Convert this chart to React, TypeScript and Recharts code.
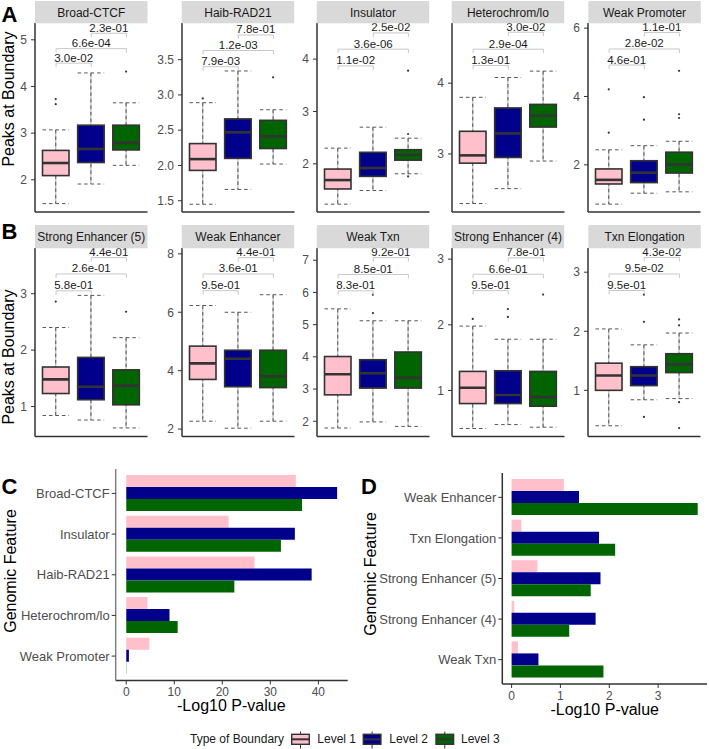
import React from "react";
import { ComposedChart, BarChart, Bar, XAxis, YAxis, ReferenceLine } from "recharts";

const LEVELS = ["Level 1", "Level 2", "Level 3"];
const LEVEL_COLORS = ["#FFC0CB", "#00008B", "#006400"];

// box stats per level: [lower whisker, Q1, median, Q3, upper whisker]
const broadCtcfBox = [[1.49, 2.09, 2.36, 2.63, 3.07], [1.91, 2.37, 2.66, 3.17, 4.29], [2.31, 2.64, 2.79, 3.17, 3.65]];
const broadCtcfOut = [[3.62, 3.73], [], [4.32]];
const broadCtcfP = ["3.0e-02", "6.6e-04", "2.3e-01"];
const broadCtcfBrackets = [4.5, 4.81, 5.14];
const broadCtcfTicks = [2, 3, 4, 5];

const haibRad21Box = [[1.45, 1.93, 2.09, 2.31, 2.89], [1.66, 2.1, 2.47, 2.66, 3.34], [2.02, 2.24, 2.41, 2.64, 2.79]];
const haibRad21Out = [[2.95], [], [3.25]];
const haibRad21P = ["7.9e-03", "1.2e-03", "7.8e-01"];
const haibRad21Brackets = [3.4, 3.63, 3.85];
const haibRad21Ticks = [1.5, 2.0, 2.5, 3.0, 3.5];

const insulatorBox = [[1.23, 1.52, 1.69, 1.9, 2.3], [1.49, 1.76, 1.92, 2.22, 2.7], [1.81, 2.07, 2.17, 2.27, 2.49]];
const insulatorOut = [[], [], [3.78, 2.57, 1.76]];
const insulatorP = ["1.1e-02", "3.6e-06", "2.5e-02"];
const insulatorBrackets = [3.87, 4.19, 4.5];
const insulatorTicks = [2, 3, 4];

const heteroBox = [[2.3, 2.87, 2.98, 3.32, 3.8], [2.51, 2.95, 3.29, 3.65, 4.08], [2.9, 3.38, 3.54, 3.7, 4.17]];
const heteroOut = [[], [], []];
const heteroP = ["1.3e-01", "2.9e-04", "3.0e-02"];
const heteroBrackets = [4.25, 4.48, 4.72];
const heteroTicks = [3, 4];

const weakPromBox = [[0.85, 1.44, 1.56, 1.88, 2.44], [1.17, 1.48, 1.77, 2.12, 2.56], [1.21, 1.76, 2.01, 2.37, 2.69]];
const weakPromOut = [[2.94, 4.21], [3.32, 3.98], [3.37, 3.48, 4.75]];
const weakPromP = ["4.6e-01", "2.8e-02", "1.1e-01"];
const weakPromBrackets = [4.92, 5.39, 5.87];
const weakPromTicks = [2, 4, 6];

const strongEnh5Box = [[0.84, 1.23, 1.48, 1.7, 2.4], [0.76, 1.12, 1.35, 1.87, 2.97], [0.62, 1.03, 1.37, 1.65, 2.22]];
const strongEnh5Out = [[2.86], [], [2.68]];
const strongEnh5P = ["5.8e-01", "2.6e-01", "4.4e-01"];
const strongEnh5Brackets = [3.05, 3.35, 3.64];
const strongEnh5Ticks = [1, 2, 3];

const weakEnhBox = [[2.27, 3.7, 4.25, 4.84, 6.23], [2.03, 3.45, 4.41, 4.7, 6.0], [2.27, 3.42, 3.81, 4.7, 6.6]];
const weakEnhOut = [[], [], []];
const weakEnhP = ["9.5e-01", "3.6e-01", "4.4e-01"];
const weakEnhBrackets = [6.74, 7.31, 7.87];
const weakEnhTicks = [2, 4, 6, 8];

const weakTxnBox = [[1.79, 2.82, 3.46, 4.01, 5.49], [1.98, 3.03, 3.49, 3.91, 5.12], [1.84, 3.03, 3.35, 4.15, 5.12]];
const weakTxnOut = [[], [5.36, 5.93], []];
const weakTxnP = ["8.3e-01", "8.5e-01", "9.2e-01"];
const weakTxnBrackets = [6.05, 6.56, 7.08];
const weakTxnTicks = [2, 3, 4, 5, 6, 7];

const strongEnh4Box = [[0.42, 0.8, 1.04, 1.29, 1.98], [0.48, 0.8, 0.93, 1.3, 1.78], [0.44, 0.76, 0.9, 1.29, 1.78]];
const strongEnh4Out = [[2.09], [2.12, 2.24], [2.46]];
const strongEnh4P = ["9.5e-01", "6.6e-01", "7.8e-01"];
const strongEnh4Brackets = [2.52, 2.77, 3.02];
const strongEnh4Ticks = [1, 2, 3];

const txnElongBox = [[0.4, 1.0, 1.25, 1.46, 2.04], [0.84, 1.08, 1.25, 1.4, 1.77], [0.86, 1.3, 1.44, 1.62, 1.97]];
const txnElongOut = [[], [0.55, 2.16, 2.62], [0.36, 0.8, 2.1, 2.2]];
const txnElongP = ["9.5e-01", "9.5e-02", "4.3e-02"];
const txnElongBrackets = [2.69, 2.97, 3.25];
const txnElongTicks = [1, 2, 3];

// -log10 p-values
const cFeatures = ["Broad-CTCF", "Insulator", "Haib-RAD21", "Heterochrom/lo", "Weak Promoter"];
const cLevel1 = [35.3, 21.3, 26.7, 4.4, 4.8];
const cLevel2 = [43.9, 35.1, 38.6, 9.0, 0.55];
const cLevel3 = [36.6, 32.2, 22.5, 10.7, 0.05];
const cTicks = [0, 10, 20, 30, 40];

const dFeatures = ["Weak Enhancer", "Txn Elongation", "Strong Enhancer (5)", "Strong Enhancer (4)", "Weak Txn"];
const dLevel1 = [1.07, 0.2, 0.53, 0.055, 0.13];
const dLevel2 = [1.38, 1.79, 1.82, 1.72, 0.55];
const dLevel3 = [3.81, 2.12, 1.62, 1.18, 1.88];
const dTicks = [0, 1, 2, 3];

const FONT = "'Liberation Sans', Arial, sans-serif";
const PLOT_W = 112.5;
const PANEL_LEFTS = [35, 181.7, 316.7, 451.7, 588.3];
const ROWS = [
  { stripTop: 1, stripBot: 23.3, plotBot: 212.3 },
  { stripTop: 225, stripBot: 248.3, plotBot: 436.7 },
];

const panels = [
  { title: "Broad-CTCF", box: broadCtcfBox, out: broadCtcfOut, p: broadCtcfP, br: broadCtcfBrackets, ticks: broadCtcfTicks, domain: [1.31, 5.36], dec: 0 },
  { title: "Haib-RAD21", box: haibRad21Box, out: haibRad21Out, p: haibRad21P, br: haibRad21Brackets, ticks: haibRad21Ticks, domain: [1.34, 4.02], dec: 1 },
  { title: "Insulator", box: insulatorBox, out: insulatorOut, p: insulatorP, br: insulatorBrackets, ticks: insulatorTicks, domain: [1.08, 4.69], dec: 0 },
  { title: "Heterochrom/lo", box: heteroBox, out: heteroOut, p: heteroP, br: heteroBrackets, ticks: heteroTicks, domain: [2.18, 4.85], dec: 0 },
  { title: "Weak Promoter", box: weakPromBox, out: weakPromOut, p: weakPromP, br: weakPromBrackets, ticks: weakPromTicks, domain: [0.62, 6.15], dec: 0 },
  { title: "Strong Enhancer (5)", box: strongEnh5Box, out: strongEnh5Out, p: strongEnh5P, br: strongEnh5Brackets, ticks: strongEnh5Ticks, domain: [0.47, 3.81], dec: 0 },
  { title: "Weak Enhancer", box: weakEnhBox, out: weakEnhOut, p: weakEnhP, br: weakEnhBrackets, ticks: weakEnhTicks, domain: [1.75, 8.2], dec: 0 },
  { title: "Weak Txn", box: weakTxnBox, out: weakTxnOut, p: weakTxnP, br: weakTxnBrackets, ticks: weakTxnTicks, domain: [1.53, 7.38], dec: 0 },
  { title: "Strong Enhancer (4)", box: strongEnh4Box, out: strongEnh4Out, p: strongEnh4P, br: strongEnh4Brackets, ticks: strongEnh4Ticks, domain: [0.3, 3.17], dec: 0 },
  { title: "Txn Elongation", box: txnElongBox, out: txnElongOut, p: txnElongP, br: txnElongBrackets, ticks: txnElongTicks, domain: [0.22, 3.41], dec: 0 },
];

const PAIRS = [[0, 1], [0, 2], [1, 2]];

function BoxShape(props: any) {
  const { x, y, width, height, payload } = props;
  if (!payload || x == null) return null;
  const [lo, q1, med, q3, hi] = payload.stats;
  const top = Math.min(y, y + height);
  const bot = Math.max(y, y + height);
  const py = (v: number) => bot - ((bot - top) * (v - lo)) / (hi - lo);
  const cx = x + width / 2;
  const dash = "3.5 3";
  return (
    <g>
      <line x1={cx} x2={cx} y1={py(hi)} y2={py(q3)} stroke="#b0b0b0" strokeWidth={1} />
      <line x1={cx} x2={cx} y1={py(q1)} y2={py(lo)} stroke="#b0b0b0" strokeWidth={1} />
      <line x1={cx} x2={cx} y1={py(hi)} y2={py(lo)} stroke="#555" strokeWidth={1} strokeDasharray={dash} />
      <line x1={x} x2={x + width} y1={py(hi)} y2={py(hi)} stroke="#555" strokeWidth={1} strokeDasharray={dash} />
      <line x1={x} x2={x + width} y1={py(lo)} y2={py(lo)} stroke="#555" strokeWidth={1} strokeDasharray={dash} />
      <rect x={x} y={py(q3)} width={width} height={py(q1) - py(q3)} fill={payload.fill} stroke="#333" strokeWidth={1.6} />
      <line x1={x} x2={x + width} y1={py(med)} y2={py(med)} stroke="#333" strokeWidth={2.6} />
      {payload.out.map((v: number, i: number) => (
        <circle key={i} cx={cx} cy={py(v)} r={1.1} fill="#333" />
      ))}
    </g>
  );
}

function BoxPanel({ panel, left, top, plotH }: any) {
  const data = LEVELS.map((lv, i) => ({ g: lv, stats: panel.box[i], out: panel.out[i], fill: LEVEL_COLORS[i] }));
  const [lo, hi] = panel.domain;
  const tip = ((hi - lo) * 4) / plotH;
  return (
    <div style={{ position: "absolute", left: left - 40, top }}>
      <ComposedChart width={40 + PLOT_W + 1} height={plotH + 1} data={data} margin={{ top: 0, right: 1, bottom: 0, left: 0 }}>
        <XAxis
          dataKey="g"
          type="category"
          tick={false}
          tickLine={false}
          height={1}
          padding={{ left: 3.5, right: 3.5 }}
          axisLine={{ stroke: "#333", strokeWidth: 1.5 }}
        />
        <YAxis
          type="number"
          domain={panel.domain}
          ticks={panel.ticks}
          allowDataOverflow
          interval={0}
          width={40}
          tickSize={4}
          tickMargin={4}
          axisLine={{ stroke: "#333", strokeWidth: 1.5 }}
          tickLine={{ stroke: "#333" }}
          tick={{ fill: "#4d4d4d", fontSize: 12 }}
          tickFormatter={(v: number) => v.toFixed(panel.dec)}
        />
        <Bar dataKey={(d: any) => [d.stats[0], d.stats[4]]} barSize={26.5} isAnimationActive={false} shape={BoxShape} />
        {PAIRS.map(([a, b], k) => (
          <React.Fragment key={k}>
            <ReferenceLine
              segment={[{ x: LEVELS[a], y: panel.br[k] }, { x: LEVELS[b], y: panel.br[k] }]}
              stroke="#c8c8c8"
              strokeWidth={1}
              label={{ value: panel.p[k], position: "top", offset: 1.5, fill: "#1a1a1a", fontSize: 11.5 }}
            />
            <ReferenceLine segment={[{ x: LEVELS[a], y: panel.br[k] }, { x: LEVELS[a], y: panel.br[k] - tip }]} stroke="#c8c8c8" strokeWidth={1} />
            <ReferenceLine segment={[{ x: LEVELS[b], y: panel.br[k] }, { x: LEVELS[b], y: panel.br[k] - tip }]} stroke="#c8c8c8" strokeWidth={1} />
          </React.Fragment>
        ))}
      </ComposedChart>
    </div>
  );
}

function FeatureBars({ cats, l1, l2, l3, domain, ticks, left, top, yWidth, width, plotH, leftAxisColor }: any) {
  const data = cats.map((c: string, i: number) => ({ c, l1: l1[i], l2: l2[i], l3: l3[i] }));
  const band = plotH / 5.2;
  return (
    <div style={{ position: "absolute", left, top }}>
      <BarChart
        layout="vertical"
        width={width}
        height={plotH + 24}
        data={data}
        margin={{ top: 0, right: 2, bottom: 0, left: 0 }}
        barCategoryGap="5%"
        barGap={0}
      >
        <XAxis
          type="number"
          domain={domain}
          ticks={ticks}
          allowDataOverflow
          interval={0}
          height={24}
          tickSize={4}
          tickMargin={3}
          axisLine={{ stroke: "#333", strokeWidth: 1.5 }}
          tickLine={{ stroke: "#333" }}
          tick={{ fill: "#4d4d4d", fontSize: 12 }}
        />
        <YAxis
          type="category"
          dataKey="c"
          width={yWidth}
          interval={0}
          tickSize={4}
          tickMargin={2}
          padding={{ top: band * 0.1, bottom: band * 0.1 }}
          axisLine={{ stroke: leftAxisColor, strokeWidth: 1.5 }}
          tickLine={{ stroke: "#333" }}
          tick={{ fill: "#4d4d4d", fontSize: 13 }}
        />
        <Bar dataKey="l1" fill={LEVEL_COLORS[0]} isAnimationActive={false} />
        <Bar dataKey="l2" fill={LEVEL_COLORS[1]} isAnimationActive={false} />
        <Bar dataKey="l3" fill={LEVEL_COLORS[2]} isAnimationActive={false} />
      </BarChart>
    </div>
  );
}

function LegendIcon({ x, color }: { x: number; color: string }) {
  const cx = x + 8.8;
  return (
    <g>
      <line x1={cx} x2={cx} y1={731.5} y2={748.5} stroke="#333" strokeWidth={1} />
      <rect x={x} y={734.3} width={17.6} height={10} fill={color} stroke="#333" strokeWidth={1.4} />
      <line x1={x} x2={x + 17.6} y1={739.3} y2={739.3} stroke="#333" strokeWidth={2} />
    </g>
  );
}

export default function App() {
  const legendIconX = [291.7, 363.3, 436];
  const legendTextX = [317.3, 389.3, 461];
  return (
    <div style={{ position: "absolute", left: 0, top: 0, width: 709, height: 749, background: "#fff", fontFamily: FONT, overflow: "hidden" }}>
      {panels.map((p, i) => {
        const row = ROWS[Math.floor(i / 5)];
        return (
          <BoxPanel key={p.title} panel={p} left={PANEL_LEFTS[i % 5]} top={row.stripBot} plotH={row.plotBot - row.stripBot} />
        );
      })}
      <FeatureBars
        cats={cFeatures}
        l1={cLevel1}
        l2={cLevel2}
        l3={cLevel3}
        domain={[-2.2, 46.1]}
        ticks={cTicks}
        left={0}
        top={468.5}
        yWidth={115.7}
        width={349.7}
        plotH={211.5}
        leftAxisColor="#808080"
      />
      <FeatureBars
        cats={dFeatures}
        l1={dLevel1}
        l2={dLevel2}
        l3={dLevel3}
        domain={[-0.19, 4.0]}
        ticks={dTicks}
        left={350}
        top={473}
        yWidth={152.3}
        width={359}
        plotH={211}
        leftAxisColor="#333"
      />
      <svg width={709} height={749} style={{ position: "absolute", left: 0, top: 0, pointerEvents: "none", fontFamily: FONT }}>
        {panels.map((p, i) => {
          const row = ROWS[Math.floor(i / 5)];
          const x = PANEL_LEFTS[i % 5];
          return (
            <g key={p.title}>
              <rect x={x} y={row.stripTop} width={PLOT_W} height={row.stripBot - row.stripTop} fill="#d9d9d9" />
              <text x={x + PLOT_W / 2} y={row.stripTop + 16} textAnchor="middle" fontSize={12} fill="#1a1a1a">
                {p.title}
              </text>
            </g>
          );
        })}
        <text transform="translate(13.5,99) rotate(-90)" textAnchor="middle" fontSize={16} fill="#000">Peaks at Boundary</text>
        <text transform="translate(13.5,357) rotate(-90)" textAnchor="middle" fontSize={16} fill="#000">Peaks at Boundary</text>
        <text transform="translate(16,571) rotate(-90)" textAnchor="middle" fontSize={16} fill="#000">Genomic Feature</text>
        <text transform="translate(376,574) rotate(-90)" textAnchor="middle" fontSize={16} fill="#000">Genomic Feature</text>
        <text x={231.3} y={711} textAnchor="middle" fontSize={16} fill="#000">-Log10 P-value</text>
        <text x={604.7} y={715} textAnchor="middle" fontSize={16} fill="#000">-Log10 P-value</text>
        <text x={1.5} y={22} fontSize={22} fontWeight="bold" fill="#000">A</text>
        <text x={1.5} y={238.5} fontSize={22} fontWeight="bold" fill="#000">B</text>
        <text x={1.5} y={494} fontSize={22} fontWeight="bold" fill="#000">C</text>
        <text x={361} y={494} fontSize={22} fontWeight="bold" fill="#000">D</text>
        <text x={190} y={743} fontSize={12} fill="#1a1a1a">Type of Boundary</text>
        {LEVELS.map((lv, i) => (
          <g key={lv}>
            <LegendIcon x={legendIconX[i]} color={LEVEL_COLORS[i]} />
            <text x={legendTextX[i]} y={743} fontSize={12} fill="#1a1a1a">{lv}</text>
          </g>
        ))}
      </svg>
    </div>
  );
}
